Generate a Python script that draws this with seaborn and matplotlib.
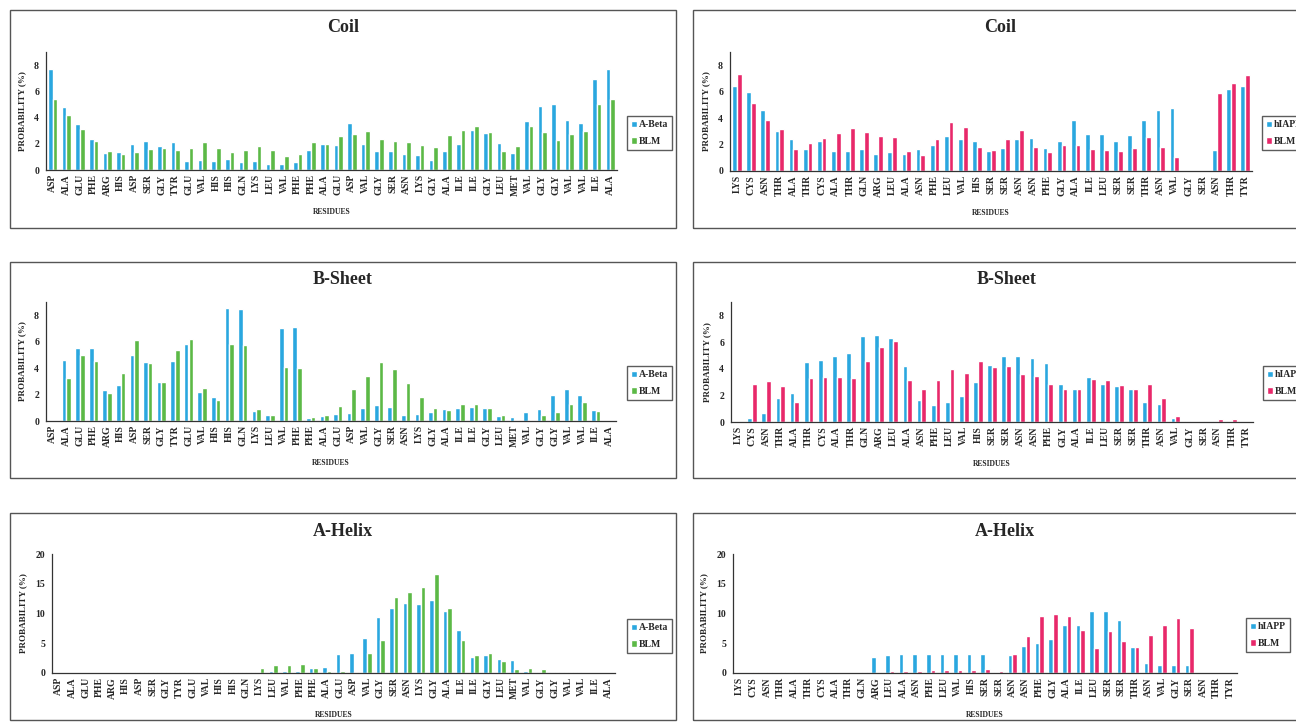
import numpy as np
import pandas as pd
import matplotlib
matplotlib.use("Agg")
import matplotlib.pyplot as plt
from matplotlib.patches import Rectangle
import seaborn as sns

sns.set_style("white")
plt.rcParams['font.family'] = ['Liberation Serif', 'DejaVu Serif']
plt.rcParams['font.weight'] = 'bold'
plt.rcParams['axes.labelweight'] = 'bold'

# residue sequences
left_res = ["ASP", "ALA", "GLU", "PHE", "ARG", "HIS", "ASP", "SER", "GLY", "TYR",
            "GLU", "VAL", "HIS", "HIS", "GLN", "LYS", "LEU", "VAL", "PHE", "PHE",
            "ALA", "GLU", "ASP", "VAL", "GLY", "SER", "ASN", "LYS", "GLY", "ALA",
            "ILE", "ILE", "GLY", "LEU", "MET", "VAL", "GLY", "GLY", "VAL", "VAL",
            "ILE", "ALA"]
right_res = ["LYS", "CYS", "ASN", "THR", "ALA", "THR", "CYS", "ALA", "THR", "GLN",
             "ARG", "LEU", "ALA", "ASN", "PHE", "LEU", "VAL", "HIS", "SER", "SER",
             "ASN", "ASN", "PHE", "GLY", "ALA", "ILE", "LEU", "SER", "SER", "THR",
             "ASN", "VAL", "GLY", "SER", "ASN", "THR", "TYR"]

# Coil
abeta_coil = [7.7, 4.8, 3.5, 2.4, 1.3, 1.4, 2.0, 2.2, 1.8, 2.15,
              0.7, 0.8, 0.7, 0.85, 0.6, 0.7, 0.45, 0.45, 0.6, 1.55,
              2.0, 1.94, 3.57, 2.0, 1.46, 1.46, 1.23, 1.13, 0.8, 1.46,
              1.96, 3.07, 2.82, 2.04, 1.33, 3.7, 4.88, 5.03, 3.85, 3.62,
              6.97, 7.67]
blm_coil_l = [5.4, 4.2, 3.15, 2.25, 1.45, 1.2, 1.4, 1.6, 1.65, 1.5,
              1.65, 2.15, 1.65, 1.35, 1.5, 1.8, 1.5, 1.05, 1.2, 2.15,
              2.0, 2.6, 2.74, 3.0, 2.34, 2.19, 2.16, 1.94, 1.79, 2.67,
              3.04, 3.35, 2.92, 1.48, 1.86, 3.32, 2.89, 2.31, 2.77, 2.94,
              5.06, 5.38]
hiapp_coil = [6.43, 5.98, 4.63, 3.05, 2.45, 1.7, 2.3, 1.48, 1.53, 1.63,
              1.3, 1.43, 1.25, 1.68, 1.98, 2.65, 2.45, 2.25, 1.5, 1.75,
              2.43, 2.53, 1.75, 2.3, 3.88, 2.78, 2.8, 2.25, 2.73, 3.88,
              4.6, 4.73, 0, 0, 1.58, 6.18, 6.4]
blm_coil_r = [7.3, 5.18, 3.85, 3.2, 1.68, 2.15, 2.5, 2.88, 3.23, 2.95,
              2.68, 2.58, 1.48, 1.18, 2.43, 3.7, 3.3, 1.8, 1.62, 2.45,
              3.13, 1.8, 1.45, 1.98, 1.98, 1.7, 1.58, 1.55, 1.75, 2.55,
              1.83, 1.05, 0, 0, 5.93, 6.63, 7.25]

# B-Sheet
abeta_sheet = [0, 4.6, 5.5, 5.53, 2.36, 2.74, 4.98, 4.5, 2.97, 4.53,
               5.79, 2.16, 1.84, 8.58, 8.45, 0.75, 0.48, 7.07, 7.12, 0.2,
               0.4, 0.55, 0.63, 1.0, 1.18, 1.08, 0.43, 0.53, 0.7, 0.93,
               0.96, 1.03, 1.0, 0.4, 0.28, 0.7, 0.9, 1.96, 2.39, 1.94,
               0.86, 0]
blm_sheet_l = [0, 3.25, 4.98, 4.53, 2.14, 3.65, 6.09, 4.4, 2.92, 5.38,
               6.19, 2.49, 1.61, 5.81, 5.74, 0.88, 0.48, 4.08, 4.03, 0.28,
               0.45, 1.13, 2.42, 3.42, 4.5, 3.95, 2.84, 1.79, 0.96, 0.8,
               1.28, 1.28, 1.0, 0.43, 0.1, 0.08, 0.48, 0.68, 1.26, 1.46,
               0.78, 0]
hiapp_sheet = [0, 0.3, 0.68, 1.78, 2.2, 4.5, 4.68, 4.98, 5.18, 6.43,
               6.5, 6.28, 4.18, 1.65, 1.28, 1.53, 1.95, 2.98, 4.25, 4.93,
               4.95, 4.8, 4.45, 2.88, 2.45, 3.4, 2.85, 2.68, 2.48, 1.48,
               1.35, 0.33, 0.1, 0.1, 0.1, 0.1, 0]
blm_sheet_r = [0, 2.85, 3.08, 2.73, 1.5, 3.28, 3.38, 3.38, 3.28, 4.58,
               5.65, 6.05, 3.13, 2.5, 3.13, 3.95, 3.65, 4.55, 4.1, 4.23,
               3.63, 3.43, 2.83, 2.48, 2.45, 3.2, 3.15, 2.8, 2.48, 2.83,
               1.78, 0.43, 0, 0, 0.25, 0.25, 0]

# A-Helix
abeta_helix = [0, 0, 0, 0, 0.05, 0.1, 0.1, 0.1, 0.1, 0.1,
               0.1, 0.1, 0.1, 0.1, 0.1, 0.1, 0.3, 0.4, 0.35, 0.85,
               1.07, 3.2, 3.3, 5.9, 9.35, 11.0, 11.7, 11.55, 12.3, 10.5,
               7.2, 2.75, 3.0, 2.37, 2.2, 0.3, 0.2, 0.1, 0.1, 0.15,
               0.05, 0]
blm_helix_l = [0, 0, 0, 0, 0.05, 0.1, 0.1, 0.1, 0.2, 0.1,
               0.2, 0.2, 0.1, 0.1, 0.2, 0.85, 1.35, 1.4, 1.45, 0.8,
               0.4, 0.3, 0.1, 3.3, 5.5, 12.7, 13.6, 14.4, 16.7, 10.9,
               5.6, 3.0, 3.4, 2.0, 0.7, 0.8, 0.65, 0.1, 0.1, 0.05,
               0.05, 0]
hiapp_helix = [0, 0, 0, 0, 0, 0, 0, 0, 0, 0,
               2.7, 3.0, 3.25, 3.2, 3.2, 3.2, 3.2, 3.2, 3.25, 0.1,
               3.0, 4.5, 5.05, 5.65, 8.1, 8.1, 10.35, 10.35, 8.95, 4.4,
               1.7, 1.4, 1.4, 1.4, 0, 0, 0]
blm_helix_r = [0, 0.15, 0.15, 0.2, 0.2, 0.1, 0.1, 0, 0.05, 0.1,
               0.2, 0.3, 0.4, 0.4, 0.45, 0.45, 0.45, 0.5, 0.65, 0.3,
               3.2, 6.2, 9.6, 9.9, 9.6, 7.3, 4.15, 7.0, 5.3, 4.4,
               6.45, 8.05, 9.25, 7.5, 0, 0.05, 0]

BLUE = "#2AA7DF"
GREEN = "#5CB946"
PINK = "#E8286A"

W, H = 1296, 724
fig = plt.figure(figsize=(W / 100, H / 100), dpi=100)


def px(x0, y0, x1, y1):
    return [x0 / W, 1 - y1 / H, (x1 - x0) / W, (y1 - y0) / H]


# panel frames (pixels)
boxes = [(10, 10, 676, 228), (693, 10, 1310, 228),
         (10, 262, 676, 478), (693, 262, 1310, 478),
         (10, 513, 676, 720), (693, 513, 1310, 720)]
for b in boxes:
    fig.patches.append(Rectangle((b[0] / W, 1 - b[3] / H), (b[2] - b[0]) / W, (b[3] - b[1]) / H,
                                 transform=fig.transFigure, fill=False,
                                 edgecolor="#555555", linewidth=1.0))

panels = [
    # title, residues, series a, series b, name a, colour b, axes px, ymax, ticks, title y, legend anchor, title x
    ("Coil", left_res, abeta_coil, blm_coil_l, "A-Beta", GREEN, (46, 52, 617, 170), 9, [0, 2, 4, 6, 8], 28, (627, 133), 343),
    ("Coil", right_res, hiapp_coil, blm_coil_r, "hIAPP", PINK, (730, 52, 1252, 171), 9, [0, 2, 4, 6, 8], 28, (1262, 133), 1000),
    ("B-Sheet", left_res, abeta_sheet, blm_sheet_l, "A-Beta", GREEN, (46, 302, 616, 421), 9, [0, 2, 4, 6, 8], 280, (627, 383), 343),
    ("B-Sheet", right_res, hiapp_sheet, blm_sheet_r, "hIAPP", PINK, (731, 302, 1253, 422), 9, [0, 2, 4, 6, 8], 280, (1263, 383), 1007),
    ("A-Helix", left_res, abeta_helix, blm_helix_l, "A-Beta", GREEN, (52, 554, 615, 673), 20, [0, 5, 10, 15, 20], 532, (627, 636), 343),
    ("A-Helix", right_res, hiapp_helix, blm_helix_r, "hIAPP", PINK, (733, 554, 1237, 673), 20, [0, 5, 10, 15, 20], 532, (1246, 635), 1005),
]

for title, res, a, b, name_a, col_b, r, ymax, yt, ty, lg, tx in panels:
    ax = fig.add_axes(px(*r))
    n = len(res)
    df = pd.DataFrame({
        "pos": list(range(n)) * 2,
        "value": list(a) + list(b),
        "series": [name_a] * n + ["BLM"] * n,
    })
    sns.barplot(data=df, x="pos", y="value", hue="series", palette=[BLUE, col_b],
                width=0.68, ax=ax, saturation=1, errorbar=None)
    sns.despine(ax=ax)
    for s in ["left", "bottom"]:
        ax.spines[s].set_color("#333333")
        ax.spines[s].set_linewidth(0.9)
    ax.set_xlim(-0.5, n - 0.5)
    ax.set_ylim(0, ymax)
    ax.set_yticks(yt)
    ax.set_yticklabels([str(v) for v in yt], fontsize=7, fontweight="bold")
    ax.set_xticks(range(n))
    ax.set_xticklabels(res, rotation=90, fontsize=7, fontweight="bold")
    ax.set_xticks(np.arange(-0.5, n, 1.0), minor=True)
    ax.tick_params(axis="x", which="major", length=0, pad=3)
    ax.tick_params(axis="x", which="minor", length=3, width=0.8, direction="out", color="#333333")
    ax.tick_params(axis="y", length=3, width=0.8, direction="out", color="#333333", pad=2)
    ax.set_xlabel("")
    ax.set_ylabel("PROBABILITY (%)", fontsize=6.5, fontweight="bold", labelpad=6)
    handles, labels = ax.get_legend_handles_labels()
    ax.legend(handles, labels, loc="center left", bbox_to_anchor=(lg[0] / W, 1 - lg[1] / H),
              bbox_transform=fig.transFigure, frameon=True, fancybox=False,
              edgecolor="#333333", handlelength=0.6, handleheight=0.6,
              handletextpad=0.2, borderpad=0.4, borderaxespad=0, labelspacing=0.8,
              prop={"weight": "bold", "size": 7})
    ax.get_legend().get_frame().set_linewidth(1.0)
    fig.text(tx / W, 1 - ty / H, title, ha="center", va="center", fontsize=13, fontweight="bold")
    cx = (r[0] + r[2]) / 2
    fig.text(cx / W, 1 - (r[3] + 42) / H, "RESIDUES", ha="center", va="center",
             fontsize=5.5, fontweight="bold")

fig.savefig("out.png", dpi=100)
